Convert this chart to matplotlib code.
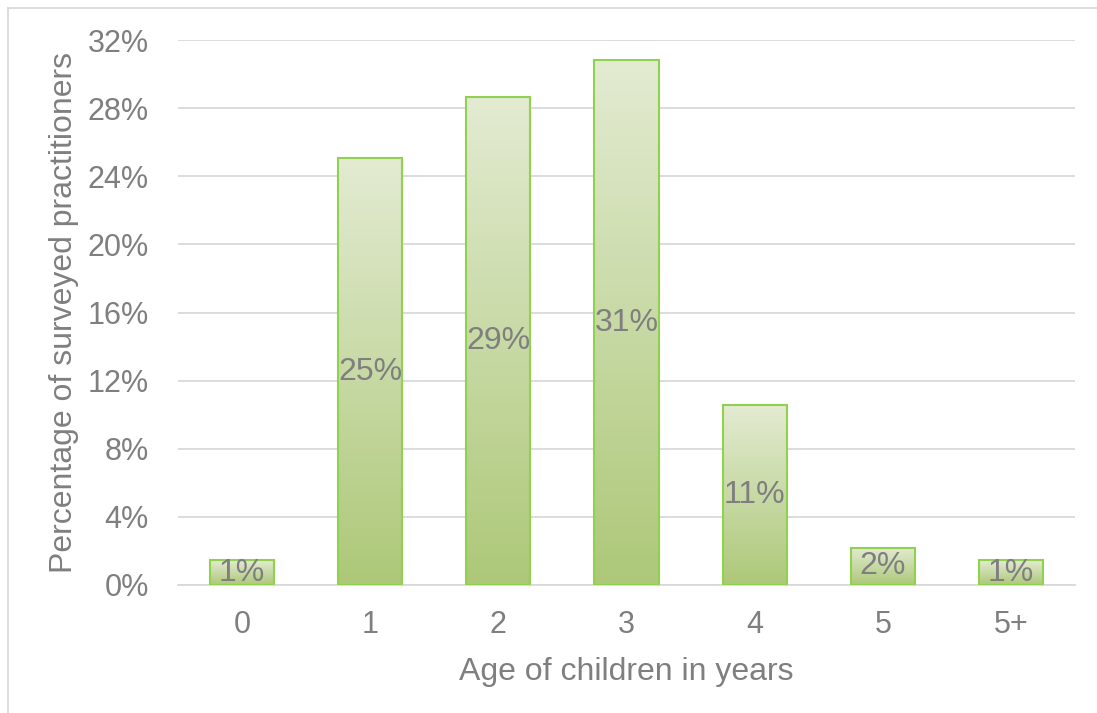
import matplotlib
matplotlib.use("Agg")
import matplotlib.pyplot as plt
import numpy as np
from matplotlib.colors import LinearSegmentedColormap
from matplotlib.lines import Line2D

categories = ["0", "1", "2", "3", "4", "5", "5+"]
values = [1.45, 25.05, 28.65, 30.8, 10.55, 2.2, 1.45]
labels = ["1%", "25%", "29%", "31%", "11%", "2%", "1%"]
yticks = [0, 4, 8, 12, 16, 20, 24, 28, 32]

plt.rcParams['font.family'] = ['Liberation Sans', 'DejaVu Sans']
gray = '#7f7f7f'
fs = 23

fig = plt.figure(figsize=(10.97, 7.13), dpi=100)
ax = fig.add_axes([178/1097, 1-585/713, (1075-178)/1097, (585-40)/713])

x = np.arange(len(categories))
bars = ax.bar(x, values, width=0.5, color='none', edgecolor='#92d050', linewidth=1.5, zorder=3)

cmap = LinearSegmentedColormap.from_list('g', ['#adc878', '#e3ebd2'])
grad = np.linspace(0, 1, 256).reshape(-1, 1)
for b in bars:
    x0, y0 = b.get_x(), b.get_y()
    w, h = b.get_width(), b.get_height()
    im = ax.imshow(grad, cmap=cmap, origin='lower', aspect='auto',
                   extent=[x0, x0 + w, y0, y0 + h], zorder=2)
    im.set_clip_path(b)

for xi, v, lab in zip(x, values, labels):
    ax.text(xi, v / 2, lab, ha='center', va='center', fontsize=fs, color=gray, zorder=4)

ax.set_xlim(-0.5, len(categories) - 0.5)
ax.set_ylim(0, 32)
ax.set_yticks(yticks)
ax.set_yticklabels([f"{t}%" for t in yticks])
ax.set_xticks(x)
ax.set_xticklabels(categories)
ax.tick_params(axis='both', length=0, labelsize=22, labelcolor=gray)
ax.tick_params(axis='y', pad=21)
ax.tick_params(axis='x', pad=18)
ax.grid(axis='y', color='#d9d9d9', linewidth=1.3, zorder=0)
ax.set_axisbelow(True)
for s in ['top', 'right', 'left']:
    ax.spines[s].set_visible(False)
ax.spines['bottom'].set_color('#d9d9d9')
ax.spines['bottom'].set_linewidth(1.3)

ax.set_xlabel("Age of children in years", fontsize=fs, color=gray, labelpad=12)
ax.set_ylabel("Percentage of surveyed practitioners", fontsize=fs, color=gray, labelpad=6)

fig.add_artist(Line2D([8/1097, 8/1097], [0, 1-8/713], color='#d9d9d9', lw=1.3, transform=fig.transFigure))
fig.add_artist(Line2D([8/1097, 1], [1-8/713, 1-8/713], color='#d9d9d9', lw=1.3, transform=fig.transFigure))

fig.savefig("out.png", dpi=100)
